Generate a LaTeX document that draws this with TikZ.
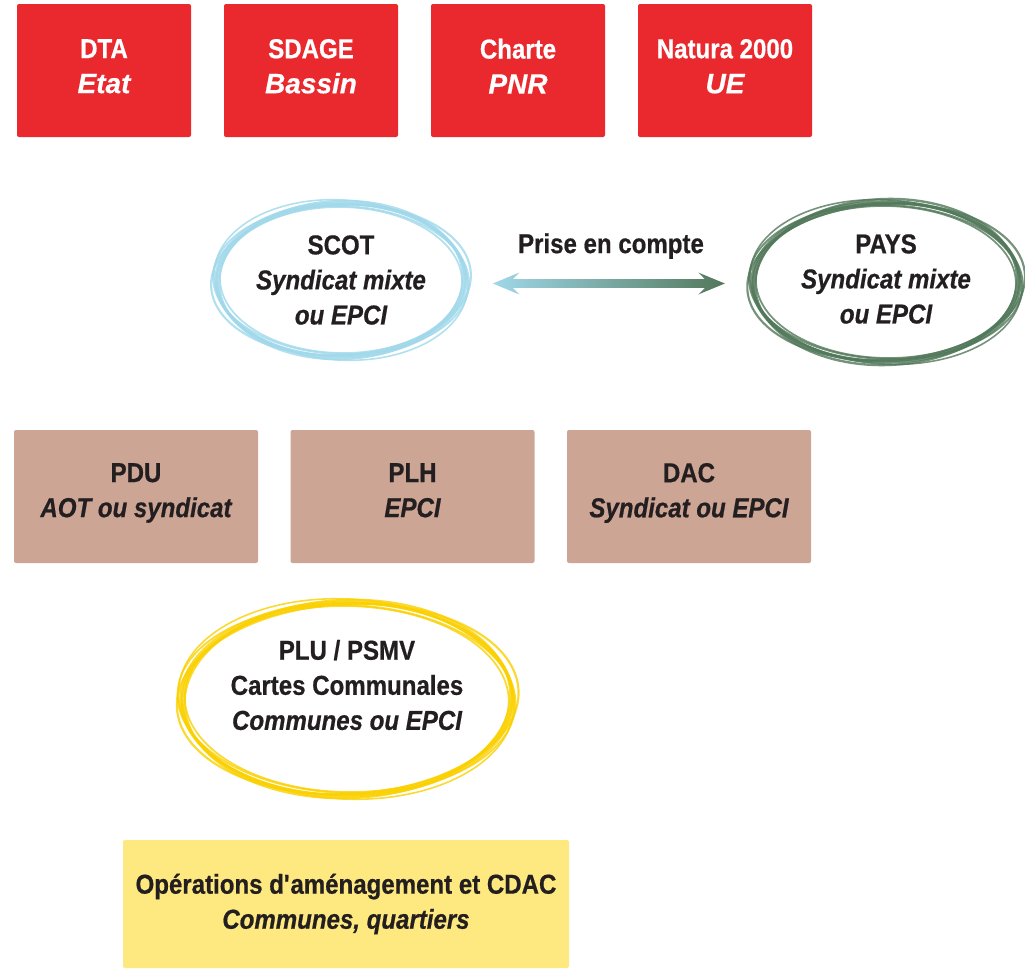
\documentclass[tikz,border=0pt]{standalone}
\usepackage{fontspec}
\setmainfont{Liberation Sans}[FakeStretch=0.88, FakeBold=0.6]
\newfontfamily\widefont{Liberation Sans}[FakeBold=0.4]
\usetikzlibrary{positioning,calc,shapes.geometric,shapes.arrows}
\definecolor{planred}{RGB}{233,41,46}
\definecolor{planbrown}{RGB}{204,165,148}
\definecolor{planyellow}{RGB}{254,232,128}
\definecolor{scotblue}{RGB}{160,216,234}
\definecolor{paysgreen}{RGB}{82,120,90}
\definecolor{pluyellow}{RGB}{250,208,0}
\definecolor{textgray}{RGB}{35,31,32}
\begin{document}
\begin{tikzpicture}[x=0.75pt,y=0.75pt,yscale=-1,xscale=1,
	every node/.style={font=\bfseries\fontsize{20.5}{26.3}\selectfont, align=center, text=textgray},
	redbox/.style={execute at end node={\rule[-6.5pt]{0pt}{6.5pt}}, fill=planred, text=white, rounded corners=1.5pt, minimum width=130.5pt, minimum height=99.75pt},
	brownbox/.style={execute at begin node={\rule{0pt}{17pt}}, execute at end node={\rule[-9.5pt]{0pt}{9.5pt}}, fill=planbrown, rounded corners=1.5pt, minimum width=183pt, minimum height=99.75pt},
	ring/.style={ellipse, inner sep=0pt},
	sketch/.style={draw=#1, draw opacity=0.8}
	]
	\useasboundingbox (0,0) rectangle (1025,968);
	
	%Shape: Rectangle (top row)
	\node (dta) [redbox] at (104,70.5) {DTA\\{\widefont\itshape\fontsize{21}{26.3}\selectfont Etat}};
	\node (sdage) [redbox] at (311,70.5) {SDAGE\\{\widefont\itshape\fontsize{21}{26.3}\selectfont Bassin}};
	\node (charte) [redbox] at (518,70.5) {Charte\\{\widefont\itshape\fontsize{21}{26.3}\selectfont PNR}};
	\node (natura) [redbox] at (725,70.5) {Natura 2000\\{\widefont\itshape\fontsize{21}{26.3}\selectfont UE}};
	
	%Shape: Ellipse (SCOT)
	\node (scot) [ring, minimum width=188pt, minimum height=115pt] at (341,280) {SCOT\\\itshape Syndicat mixte\\\itshape ou EPCI};
	\foreach \a/\rx/\ry/\w in {0/125/77/2.4, 2/128/74/1.4, -2/122/79/1.8, 4/127/80/1.2, -3/130/75/1.6, 1/121/73/1.3, -1/124/76/2.0}
		\draw [sketch=scotblue, line width=\w pt, rotate around={\a:(scot.center)}] (scot.center) ellipse [x radius=\rx, y radius=\ry];
	
	%Shape: Ellipse (PAYS)
	\node (pays) [ring, minimum width=202pt, minimum height=121pt] at (886,279) {PAYS\\\itshape Syndicat mixte\\\itshape ou EPCI};
	\foreach \a/\rx/\ry/\w in {0/134/80/2.4, 2/137/77/1.4, -2/131/83/1.8, 4/136/82/1.2, -3/139/78/1.6, 1/130/76/1.3, -1/133/79/2.0}
		\draw [sketch=paysgreen, line width=\w pt, rotate around={\a:($(pays.center)+(0,3)$)}] ($(pays.center)+(0,3)$) ellipse [x radius=\rx, y radius=\ry];
	
	%Double arrow between SCOT and PAYS
	\node (fleche) [double arrow, left color=scotblue, right color=paysgreen, draw=none, inner sep=3pt, minimum height=174pt, minimum width=16.5pt, double arrow head extend=5pt, double arrow head indent=5pt, double arrow tip angle=45] at ($(scot.east)!0.5!(pays.west)+(0,4)$) {};
	% Text Node
	\node (prise) at (611,246) {Prise en compte};
	
	%Shape: Rectangle (middle row)
	\node (pdu) [brownbox] at (136,496.5) {PDU\\\itshape AOT ou syndicat};
	\node (plh) [brownbox] at (412.5,496.5) {PLH\\\itshape EPCI};
	\node (dac) [brownbox] at (689,496.5) {DAC\\\itshape Syndicat ou EPCI};
	
	%Shape: Ellipse (PLU)
	\node (plu) at (347,685) {PLU / PSMV\\Cartes Communales\\\itshape Communes ou EPCI};
	\foreach \a/\rx/\ry/\w in {0/166/97/2.4, 2/169/94/1.4, -2/163/99/1.8, 3/168/100/1.2, -3/171/95/1.6, 1/162/93/1.3, -1/165/96/2.0}
		\draw [sketch=pluyellow, line width=\w pt, rotate around={\a:($(plu.center)+(0,14)$)}] ($(plu.center)+(0,14)$) ellipse [x radius=\rx, y radius=\ry];
	
	%Shape: Rectangle (bottom)
	\node (operations) [fill=planyellow, rounded corners=1.5pt, minimum width=334.5pt, minimum height=96pt] at (346,904) {Op\'erations d\textquotesingle am\'enagement et CDAC\\\itshape Communes, quartiers};
	
\end{tikzpicture}
\end{document}
